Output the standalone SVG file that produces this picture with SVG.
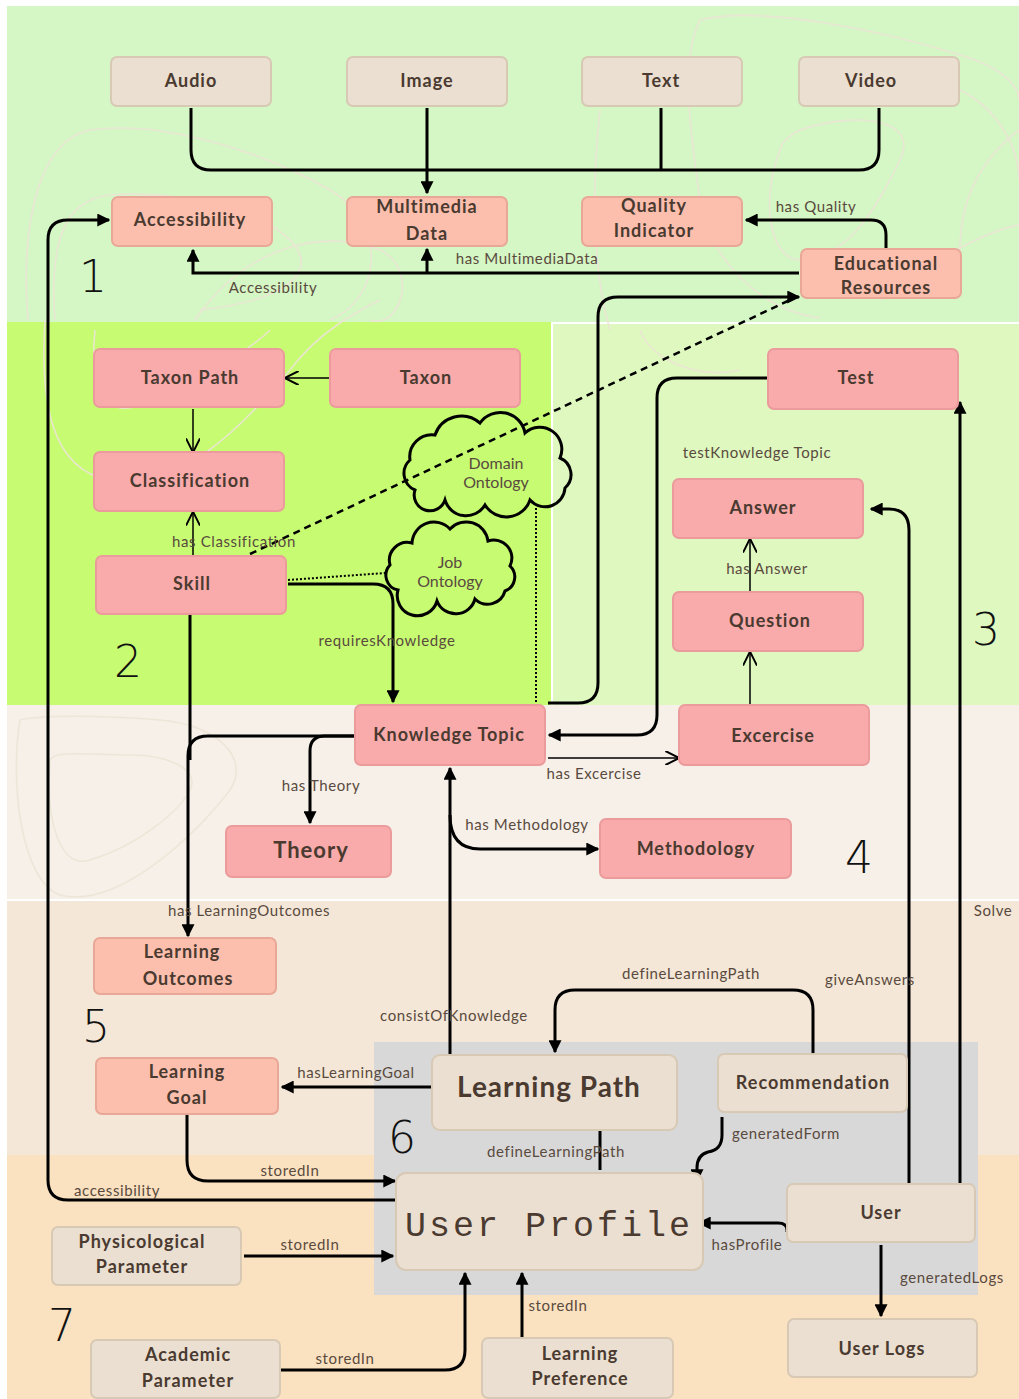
<svg xmlns="http://www.w3.org/2000/svg" width="1019" height="1399" viewBox="0 0 1019 1399">
<defs>
<style>
.bg{stroke:none}
.n text{font-family:Lato,"Noto Sans",sans-serif;font-weight:bold;font-size:18px;fill:#4a3a30;text-anchor:middle;letter-spacing:1px}
.beige{fill:#eadfd1;stroke:#d8c9b5;stroke-width:2}
.salmon{fill:#fcbfae;stroke:#e9a797;stroke-width:2}
.pink{fill:#f9abab;stroke:#eb9b9b;stroke-width:2}
.e path{fill:none;stroke:#000;stroke-width:3}
.e .thin{stroke-width:1.5}
.e .dash{stroke-dasharray:7 5;stroke-width:2.5}
.e .dot{stroke-dasharray:2 2;stroke-width:2}
.lbl text{font-family:Lato,"Noto Sans",sans-serif;font-size:15px;fill:#5a4a3e;text-anchor:middle;letter-spacing:0.6px}
.num{font-family:"DejaVu Sans",sans-serif;font-size:44px;fill:#111;font-weight:300}
.deco{fill:none;stroke:#ece4d6;stroke-width:1.6;opacity:0.9}
.cloud{fill:none;stroke:#000;stroke-width:3}
.ct{font-family:Lato,"Noto Sans",sans-serif;font-size:16px;fill:#5a4a3e;text-anchor:middle}
</style>
<marker id="ah" viewBox="0 0 10 10" refX="9" refY="5" markerWidth="13" markerHeight="13" markerUnits="userSpaceOnUse" orient="auto"><path d="M0,0 L10,5 L0,10 z" fill="#000"/></marker>
<marker id="av" viewBox="0 0 10 10" refX="9" refY="5" markerWidth="14" markerHeight="14" markerUnits="userSpaceOnUse" orient="auto"><path d="M0,0 L10,5 L0,10" fill="none" stroke="#000" stroke-width="1.4"/></marker>
</defs>

<g id="backgrounds">
<rect x="0" y="0" width="1019" height="1399" fill="#ffffff"/>
<rect class="bg" x="7" y="6" width="1012" height="316" fill="#d5f6c5"/>
<rect class="bg" x="7" y="322" width="545" height="383" fill="#c6fb72"/>
<rect class="bg" x="552" y="322" width="467" height="383" fill="#dff8bf"/>
<rect class="bg" x="7" y="705" width="1012" height="195" fill="#f6f0e8"/>
<rect class="bg" x="7" y="900" width="1012" height="255" fill="#f4e7d7"/>
<rect class="bg" x="7" y="1155" width="1012" height="244" fill="#fae1c0"/>
<rect class="bg" x="374" y="1042" width="604" height="253" fill="#d8d8d8"/>
<path d="M552,705 V323 H1019" fill="none" stroke="#ffffff" stroke-width="2"/>
<path d="M7,900 H1019" fill="none" stroke="#ffffff" stroke-width="2"/>
</g>

<g id="decoration">
<path class="deco" d="M28,320 C20,220 40,140 90,130 C160,120 260,150 330,190 C390,225 380,300 330,320"/>
<path class="deco" d="M55,320 C50,250 60,200 110,195 C180,190 260,210 290,240 C320,270 290,300 200,310"/>
<path class="deco" d="M95,330 C90,380 100,420 140,405 C200,380 250,350 270,330"/>
<path class="deco" d="M45,320 C40,400 50,470 110,480 C180,490 240,430 290,370 C320,330 360,310 380,300"/>
<path class="deco" d="M195,320 C250,240 330,230 380,250 C420,270 400,330 370,320"/>
<path class="deco" d="M700,20 C760,5 880,30 960,55 C1010,70 1019,90 1019,100"/>
<path class="deco" d="M700,20 C680,60 690,130 700,200 C710,260 760,310 820,318"/>
<path class="deco" d="M780,150 C760,200 770,260 800,260 C850,260 880,200 900,160 C920,120 860,110 800,130 C780,140 780,150 780,150"/>
<path class="deco" d="M600,110 C590,200 595,280 610,330"/>
<path class="deco" d="M960,90 C1000,110 1019,150 1019,180"/>
<path class="deco" d="M880,300 C930,260 990,230 1019,225"/>
<path class="deco" d="M1019,130 C980,160 960,200 960,250"/>
<path class="deco" d="M20,720 C10,780 20,880 60,895 C120,910 200,830 230,790 C250,760 220,725 160,720 C100,715 40,715 20,720"/>
<path class="deco" d="M50,760 C45,820 60,870 90,860 C140,845 180,810 190,790 C200,770 170,755 130,755 C90,755 55,750 50,760"/>
<path class="deco" d="M640,330 C650,360 700,380 740,370"/>
</g>

<g id="connectors" class="e">
<path d="M191,108 V150 Q191,170 211,170 H859 Q879,170 879,150 V108"/>
<path d="M427,108 V193" marker-end="url(#ah)"/>
<path d="M661,108 V170"/>
<path d="M799,273 H193 V250" marker-end="url(#ah)"/>
<path d="M427,273 V249" marker-end="url(#ah)"/>
<path d="M886,249 V235 Q886,220 871,220 H746" marker-end="url(#ah)"/>
<path d="M396,1200 H68 Q48,1200 48,1180 V240 Q48,220 68,220 H109" marker-end="url(#ah)"/>
<path d="M548,703 H578 Q598,703 598,683 V317 Q598,297 618,297 H799" marker-end="url(#ah)"/>
<path class="dash" d="M250,554 L790,300"/>
<path class="thin" d="M345,378 H286" marker-end="url(#av)"/>
<path class="thin" d="M193,409 V451" marker-end="url(#av)"/>
<path class="thin" d="M193,556 V513" marker-end="url(#av)"/>
<path d="M288,584 H373 Q393,584 393,604 V702" marker-end="url(#ah)"/>
<path class="dot" d="M288,580 L385,573"/>
<path class="dot" d="M536,508 V703"/>
<path d="M768,378 H677 Q657,378 657,398 V715 Q657,735 637,735 H549" marker-end="url(#ah)"/>
<path class="thin" d="M750,592 V540" marker-end="url(#av)"/>
<path class="thin" d="M750,705 V653" marker-end="url(#av)"/>
<path class="thin" d="M548,758 H678" marker-end="url(#av)"/>
<path d="M355,736 H325 Q310,736 310,751 V823" marker-end="url(#ah)"/>
<path d="M355,736 H208 Q188,736 188,756 V936" marker-end="url(#ah)"/>
<path d="M190,615 V760"/>
<path d="M450,1055 V768" marker-end="url(#ah)"/>
<path d="M450,815 Q450,849 480,849 H598" marker-end="url(#ah)"/>
<path d="M813,1054 V1010 Q813,990 793,990 H575 Q555,990 555,1010 V1052" marker-end="url(#ah)"/>
<path d="M432,1087 H282" marker-end="url(#ah)"/>
<path d="M187,1112 V1160 Q187,1181 208,1181 H395" marker-end="url(#ah)"/>
<path d="M600,1170 V1117" marker-end="url(#ah)"/>
<path d="M722,1117 V1135 Q722,1150 708,1152 Q697,1155 697,1168 V1181" marker-end="url(#ah)"/>
<path d="M787,1232 V1230 Q787,1223 778,1223 H699" marker-end="url(#ah)"/>
<path d="M909,1184 V530 Q909,509 889,509 H871" marker-end="url(#ah)"/>
<path d="M960,1184 V402" marker-end="url(#ah)"/>
<path d="M881,1245 V1316" marker-end="url(#ah)"/>
<path d="M244,1256 H393" marker-end="url(#ah)"/>
<path d="M273,1370 H445 Q465,1370 465,1350 V1273" marker-end="url(#ah)"/>
<path d="M522,1338 V1273" marker-end="url(#ah)"/>
</g>

<g id="labels" class="lbl">
<text x="273" y="293">Accessibility</text>
<text x="527" y="264">has MultimediaData</text>
<text x="816" y="212">has Quality</text>
<text x="234" y="547">has Classification</text>
<text x="387" y="646">requiresKnowledge</text>
<text x="757" y="458">testKnowledge Topic</text>
<text x="767" y="574">has Answer</text>
<text x="594" y="779">has Excercise</text>
<text x="321" y="791">has Theory</text>
<text x="527" y="830">has Methodology</text>
<text x="249" y="916">has LearningOutcomes</text>
<text x="993" y="916">Solve</text>
<text x="691" y="979">defineLearningPath</text>
<text x="870" y="985">giveAnswers</text>
<text x="454" y="1021">consistOfKnowledge</text>
<text x="356" y="1078">hasLearningGoal</text>
<text x="556" y="1157">defineLearningPath</text>
<text x="786" y="1139">generatedForm</text>
<text x="290" y="1176">storedIn</text>
<text x="117" y="1196">accessibility</text>
<text x="310" y="1250">storedIn</text>
<text x="747" y="1250">hasProfile</text>
<text x="952" y="1283">generatedLogs</text>
<text x="558" y="1311">storedIn</text>
<text x="345" y="1364">storedIn</text>
</g>

<g id="region-numbers">
<text class="num" x="93" y="292" text-anchor="middle">1</text>
<text class="num" x="128" y="677" text-anchor="middle">2</text>
<text class="num" x="986" y="645" text-anchor="middle">3</text>
<text class="num" x="859" y="873" text-anchor="middle">4</text>
<text class="num" x="96" y="1042" text-anchor="middle">5</text>
<text class="num" x="402" y="1153" text-anchor="middle">6</text>
<text class="num" x="62" y="1341" text-anchor="middle">7</text>
</g>

<g id="nodes">
<g id="audio" class="n"><rect class="beige" x="111" y="57" width="160" height="49" rx="6"/><text x="191" y="87">Audio</text></g>
<g id="image" class="n"><rect class="beige" x="347" y="57" width="160" height="49" rx="6"/><text x="427" y="87">Image</text></g>
<g id="text" class="n"><rect class="beige" x="582" y="57" width="160" height="49" rx="6"/><text x="661" y="87">Text</text></g>
<g id="video" class="n"><rect class="beige" x="799" y="57" width="160" height="49" rx="6"/><text x="871" y="87">Video</text></g>
<g id="accessibility" class="n"><rect class="salmon" x="112" y="197" width="160" height="49" rx="6"/><text x="190" y="226">Accessibility</text></g>
<g id="multimedia-data" class="n"><rect class="salmon" x="347" y="197" width="160" height="49" rx="6"/><text x="427" y="213">Multimedia</text><text x="427" y="240">Data</text></g>
<g id="quality-indicator" class="n"><rect class="salmon" x="582" y="197" width="160" height="49" rx="6"/><text x="654" y="212">Quality</text><text x="654" y="237">Indicator</text></g>
<g id="educational-resources" class="n"><rect class="salmon" x="801" y="249" width="160" height="49" rx="6"/><text x="886" y="270">Educational</text><text x="886" y="294">Resources</text></g>
<g id="taxon-path" class="n"><rect class="pink" x="94" y="349" width="190" height="58" rx="6"/><text x="190" y="384">Taxon Path</text></g>
<g id="taxon" class="n"><rect class="pink" x="330" y="349" width="190" height="58" rx="6"/><text x="426" y="384">Taxon</text></g>
<g id="classification" class="n"><rect class="pink" x="94" y="452" width="190" height="59" rx="6"/><text x="190" y="487">Classification</text></g>
<g id="skill" class="n"><rect class="pink" x="96" y="556" width="190" height="58" rx="6"/><text x="192" y="590">Skill</text></g>
<g id="domain-ontology"><path class="cloud" d="M415,490 a18,18 0 0 1 -5,-30 a22,22 0 0 1 25,-25 a28,28 0 0 1 45,-12 a25,25 0 0 1 45,10 a22,22 0 0 1 35,25 a18,18 0 0 1 5,30 a20,20 0 0 1 -35,12 a25,25 0 0 1 -45,5 a22,22 0 0 1 -40,-5 a15,15 0 0 1 -30,-10 z"/><text class="ct" x="496" y="469">Domain</text><text class="ct" x="496" y="488">Ontology</text></g>
<g id="job-ontology"><path class="cloud" d="M398,590 a15,15 0 0 1 -8,-25 a18,18 0 0 1 22,-22 a22,22 0 0 1 38,-14 a22,22 0 0 1 38,12 a18,18 0 0 1 22,25 a15,15 0 0 1 -5,25 a18,18 0 0 1 -30,8 a20,20 0 0 1 -38,2 a18,18 0 0 1 -39,-11 z"/><text class="ct" x="450" y="568">Job</text><text class="ct" x="450" y="587">Ontology</text></g>
<g id="test" class="n"><rect class="pink" x="768" y="349" width="190" height="60" rx="6"/><text x="856" y="384">Test</text></g>
<g id="answer" class="n"><rect class="pink" x="673" y="479" width="190" height="59" rx="6"/><text x="763" y="514">Answer</text></g>
<g id="question" class="n"><rect class="pink" x="673" y="592" width="190" height="59" rx="6"/><text x="770" y="627">Question</text></g>
<g id="excercise" class="n"><rect class="pink" x="679" y="705" width="190" height="60" rx="6"/><text x="773" y="742">Excercise</text></g>
<g id="knowledge-topic" class="n"><rect class="pink" x="355" y="705" width="190" height="60" rx="6"/><text x="449" y="741">Knowledge Topic</text></g>
<g id="theory" class="n"><rect class="pink" x="226" y="826" width="165" height="51" rx="6"/><text x="311" y="858" style="font-size:22px">Theory</text></g>
<g id="methodology" class="n"><rect class="pink" x="600" y="819" width="191" height="59" rx="6"/><text x="696" y="855">Methodology</text></g>
<g id="learning-outcomes" class="n"><rect class="salmon" x="94" y="938" width="182" height="56" rx="6"/><text x="182" y="958">Learning</text><text x="188" y="985">Outcomes</text></g>
<g id="learning-goal" class="n"><rect class="salmon" x="96" y="1058" width="182" height="56" rx="6"/><text x="187" y="1078">Learning</text><text x="187" y="1104">Goal</text></g>
<g id="learning-path" class="n"><rect class="beige" x="432" y="1055" width="245" height="75" rx="8"/><text x="549" y="1097" style="font-size:28px">Learning Path</text></g>
<g id="recommendation" class="n"><rect class="beige" x="718" y="1054" width="189" height="58" rx="6"/><text x="813" y="1089">Recommendation</text></g>
<g id="user-profile" class="n"><rect class="beige" x="396" y="1173" width="307" height="97" rx="10"/><text x="549" y="1236" style="font-family:'Liberation Mono','DejaVu Sans Mono',monospace;font-size:35px;letter-spacing:3px;font-weight:normal;fill:#4a3a30">User Profile</text></g>
<g id="user" class="n"><rect class="beige" x="787" y="1184" width="188" height="58" rx="6"/><text x="881" y="1219">User</text></g>
<g id="user-logs" class="n"><rect class="beige" x="788" y="1319" width="189" height="58" rx="6"/><text x="882" y="1355">User Logs</text></g>
<g id="physicological-parameter" class="n"><rect class="beige" x="52" y="1227" width="189" height="58" rx="6"/><text x="142" y="1248">Physicological</text><text x="142" y="1273">Parameter</text></g>
<g id="academic-parameter" class="n"><rect class="beige" x="91" y="1340" width="189" height="58" rx="6"/><text x="188" y="1361">Academic</text><text x="188" y="1387">Parameter</text></g>
<g id="learning-preference" class="n"><rect class="beige" x="482" y="1338" width="191" height="60" rx="6"/><text x="580" y="1360">Learning</text><text x="580" y="1385">Preference</text></g>
</g>
</svg>
